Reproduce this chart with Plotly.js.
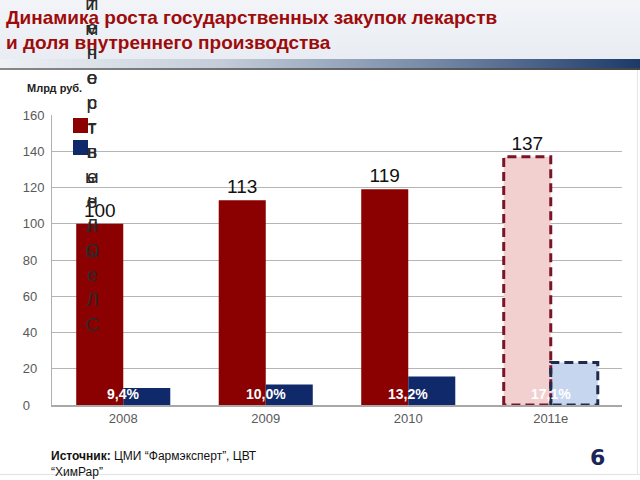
<!DOCTYPE html>
<html>
<head>
<meta charset="utf-8">
<script src="https://cdn.plot.ly/plotly-3.0.1.min.js"></script>
<style>
  html, body { margin: 0; padding: 0; background: #ffffff; }
  #slide { position: relative; width: 640px; height: 480px; overflow: hidden; background: #ffffff; }
  #hdr { position: absolute; left: 0; top: 0; width: 640px; height: 59px; background: linear-gradient(to bottom, #f2f4f8, #e9edf3); }
  #band { position: absolute; left: 0; top: 59px; width: 640px; height: 9px; background: linear-gradient(to right, #eef1f5 0%, #c3ccd8 35%, #6f84a3 70%, #1c3968 100%); }
  #bandline { position: absolute; left: 0; top: 68px; width: 640px; height: 2px; background: linear-gradient(to right, #888 0%, #444 100%); }
  #bottomline { position: absolute; left: 0; top: 474px; width: 640px; height: 1px; background: #e2e2e2; }
  #rightline { position: absolute; left: 637px; top: 70px; width: 1px; height: 405px; background: #e6e6e6; }
  #chart { position: absolute; left: 0; top: 0; width: 640px; height: 480px; }
</style>
</head>
<body>
<div id="slide">
  <div id="hdr"></div>
  <div id="band"></div>
  <div id="bandline"></div>
  <div id="bottomline"></div>
  <div id="rightline"></div>
  <div id="chart"></div>
</div>
<script>
// ---- data ----
const categories = ['2008', '2009', '2010', '2011e'];
const totalPurchases = [100, 113, 119, 137];          // млрд руб.
const domesticVolume = [9.4, 11.3, 15.7, 23.4];       // млрд руб.
const domesticShareLabels = ['9,4%', '10,0%', '13,2%', '17,1%'];
const isForecast = [false, false, false, true];
const yTickVals = [0, 20, 40, 60, 80, 100, 120, 140, 160];
const legendNames = ['ИмпортныеЛС', 'Отечественные ЛС'];

// ---- styling ----
const SANS = '"Liberation Sans", Arial, sans-serif';
const RED = '#8b0000', RED_LIGHT = '#f3d0d0', RED_EDGE = '#7a1426';
const BLUE = '#10296b', BLUE_LIGHT = '#c7d6ef', BLUE_EDGE = '#1f2b4e';
const W = 0.33;

const idx = categories.map((_, i) => i);

// pad tick labels with figure spaces so they read left-aligned
const maxLen = Math.max(...yTickVals.map(v => String(v).length));
const yTickText = yTickVals.map(v => String(v) + '\u2007'.repeat(maxLen - String(v).length));

const redTrace = {
  type: 'bar', x: idx, y: totalPurchases, offset: -W, width: W,
  name: legendNames[0], showlegend: false, hoverinfo: 'skip',
  marker: { color: totalPurchases.map((_, i) => isForecast[i] ? RED_LIGHT : RED), line: { width: 0 } },
  text: totalPurchases.map(String), textposition: 'outside', constraintext: 'none',
  textfont: { family: SANS, size: 19, color: '#111111' }, cliponaxis: false
};
const blueTrace = {
  type: 'bar', x: idx, y: domesticVolume, offset: 0, width: W,
  name: legendNames[1], showlegend: false, hoverinfo: 'skip',
  marker: { color: domesticVolume.map((_, i) => isForecast[i] ? BLUE_LIGHT : BLUE), line: { width: 0 } }
};

// dashed outlines for the forecast bars, computed from the data
function outline(values, left, color) {
  const xs = [], ys = [];
  values.forEach((v, i) => {
    if (!isForecast[i]) return;
    const x0 = i + left, x1 = x0 + W;
    xs.push(x0, x0, x1, x1, x0, null);
    ys.push(0, v, v, 0, 0, null);
  });
  return { type: 'scatter', mode: 'lines', x: xs, y: ys, showlegend: false, hoverinfo: 'skip',
           line: { color: color, width: 3, dash: '9px,5px' }, cliponaxis: false };
}

const traces = [redTrace, blueTrace, outline(totalPurchases, -W, RED_EDGE), outline(domesticVolume, 0, BLUE_EDGE)];

// share labels
const annotations = domesticShareLabels.map((t, i) => ({
  x: i, y: 6, xref: 'x', yref: 'y', text: '<b>' + t + '</b>', showarrow: false,
  xanchor: 'center', yanchor: 'middle',
  font: { family: SANS, size: 14, color: '#ffffff' }
}));

// garbled vertical legend texts (as in the reference)
annotations.push({
  x: 0.0702, y: 0.9586, xref: 'paper', yref: 'paper', showarrow: false,
  text: legendNames[0].split('').join('<br>'), xanchor: 'center', yanchor: 'middle',
  font: { family: SANS, size: 19, color: '#2a2a2a' }
});
annotations.push({
  x: 0.0702, y: 0.873, xref: 'paper', yref: 'paper', showarrow: false,
  text: legendNames[1].replace(' ', '').split('').join('<br>'), xanchor: 'center', yanchor: 'middle',
  font: { family: SANS, size: 19, color: '#2a2a2a' }
});

// unit label
annotations.push({
  x: -0.047, y: 1.093, xref: 'paper', yref: 'paper', showarrow: false,
  text: '<b>Млрд руб.</b>', xanchor: 'left', yanchor: 'middle',
  font: { family: SANS, size: 11, color: '#222222' }
});
// source
annotations.push({
  x: 49, y: 464, xref: 'paper', yref: 'paper', showarrow: false,
  text: '<b>Источник:</b> ЦМИ “Фармэксперт”, ЦВТ<br>“ХимРар”', align: 'left',
  xanchor: 'left', yanchor: 'middle',
  font: { family: SANS, size: 12, color: '#111111' }
});
// page number
annotations.push({
  x: 597, y: 457, xref: 'paper', yref: 'paper', showarrow: false,
  text: '<b>6</b>', xanchor: 'center', yanchor: 'middle',
  font: { family: '"DejaVu Sans", sans-serif', size: 22, color: '#1b2557' }
});

// convert the pixel-placed footer annotations to paper coords
const PL = 52, PR = 622, PT = 115, PB = 405;
annotations.slice(-2).forEach(a => {
  a.x = (a.x - PL) / (PR - PL);
  a.y = (PB - a.y) / (PB - PT);
});

// legend keys
const px2x = p => (p - PL) / (PR - PL);
const px2y = p => (PB - p) / (PB - PT);
const shapes = [
  { type: 'rect', xref: 'paper', yref: 'paper', x0: px2x(73), x1: px2x(88), y0: px2y(133), y1: px2y(118), fillcolor: RED, line: { width: 0 } },
  { type: 'rect', xref: 'paper', yref: 'paper', x0: px2x(73), x1: px2x(88), y0: px2y(155), y1: px2y(140), fillcolor: BLUE, line: { width: 0 } }
];

const layout = {
  width: 640, height: 480,
  margin: { l: PL, r: 640 - PR, t: PT, b: 480 - PB, pad: 0 },
  paper_bgcolor: 'rgba(0,0,0,0)', plot_bgcolor: 'rgba(0,0,0,0)',
  title: {
    text: '<b>Динамика роста государственных закупок лекарств<br>и доля внутреннего производства</b>',
    x: 6 / 640, xref: 'container', xanchor: 'left',
    y: 1 - 24 / 480, yref: 'container', yanchor: 'top',
    font: { family: SANS, size: 19, color: '#9e0b0b' }
  },
  showlegend: false,
  barmode: 'overlay',
  xaxis: {
    range: [-0.5, 3.5], tickmode: 'array', tickvals: idx, ticktext: categories,
    showgrid: false, zeroline: false, showline: true, linecolor: '#a8a8a8', linewidth: 2,
    ticks: '', tickfont: { family: SANS, size: 13, color: '#595959' }, fixedrange: true
  },
  yaxis: {
    range: [0, 160], tickmode: 'array', tickvals: yTickVals, ticktext: yTickText,
    showgrid: true, gridcolor: '#b5b5b5', gridwidth: 1, zeroline: false,
    showline: true, linecolor: '#b0b0b0', linewidth: 1,
    ticks: '', ticklabelstandoff: 4, tickfont: { family: SANS, size: 13, color: '#595959' }, fixedrange: true
  },
  annotations: annotations,
  shapes: shapes
};

Plotly.newPlot('chart', traces, layout, { staticPlot: true, displayModeBar: false });
</script>
</body>
</html>
